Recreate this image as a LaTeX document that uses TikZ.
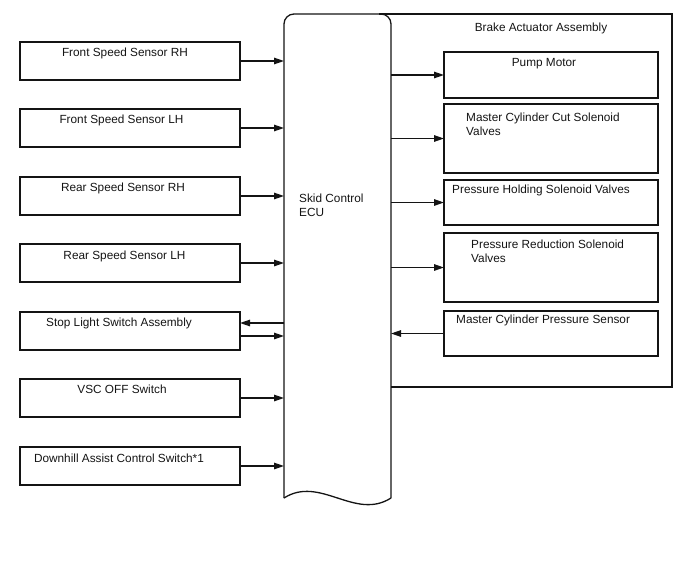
\documentclass[tikz,border=0pt]{standalone}
\usepackage{fontspec}
\setmainfont{Liberation Sans}
\usetikzlibrary{arrows.meta,positioning,calc}
\definecolor{ink}{RGB}{20,20,20}
\tikzset{
  >={Triangle[length=10pt,width=6.5pt]},
  unit/.style={draw=ink,line width=1.3pt,anchor=north west,inner sep=0pt,outer sep=0pt,
    minimum width=220pt,minimum height=38pt},
  part/.style={unit,minimum width=214pt,minimum height=#1},
  part/.default=45pt,
  frame/.style={anchor=north west,inner sep=0pt,outer sep=0pt},
  tag/.style={font=\fontsize{11.8}{14}\selectfont,text=ink,inner sep=0pt,align=left},
  flow/.style={->,line width=1.3pt,draw=ink},
}

\begin{document}
\begin{tikzpicture}[x=1pt,y=-1pt]
    \useasboundingbox (0,0) rectangle (688,560);
    % skid control ECU with wavy bottom
    \node[frame,minimum width=107pt,minimum height=484pt] (ecu) at (284,14) {};
    \draw[ink,line width=1.3pt,rounded corners=10pt] (ecu.south west) -- (ecu.north west) -- (ecu.north east) -- (ecu.south east);
    \draw[ink,line width=1.3pt] (ecu.south east) .. controls (355,521) and (320,475) .. (ecu.south west);
    \node[tag,anchor=north west] (ecut) at (299,194) {Skid Control\\ECU};
    % brake actuator assembly
    \node[frame,minimum width=281pt,minimum height=373pt] (bact) at (391,14) {};
    \draw[ink,line width=1.3pt] ([xshift=-12pt]bact.north west) -- (bact.north east) -- (bact.south east) -- (bact.south west);
    \node[tag,anchor=base] (bactt) at (541,31) {Brake Actuator Assembly};
    % inputs
    \node[unit] (fsrh) at (20,42) {};  \node[tag,anchor=base] (fsrht) at (125,56.5) {Front Speed Sensor RH};
    \node[unit] (fslh) at (20,109) {}; \node[tag,anchor=base] (fslht) at (121.5,123.5) {Front Speed Sensor LH};
    \node[unit] (rsrh) at (20,177) {}; \node[tag,anchor=base] (rsrht) at (123,191.5) {Rear Speed Sensor RH};
    \node[unit] (rslh) at (20,244) {}; \node[tag,anchor=base] (rslht) at (124.5,259.5) {Rear Speed Sensor LH};
    \node[unit] (stop) at (20,312) {}; \node[tag,anchor=base] (stopt) at (119,326.5) {Stop Light Switch Assembly};
    \node[unit] (vsc) at (20,379) {};  \node[tag,anchor=base] (vsct) at (122,393) {VSC OFF Switch};
    \node[unit] (dac) at (20,447) {};  \node[tag,anchor=base] (dact) at (119,462) {Downhill Assist Control Switch*1};
    \draw[flow] (fsrh.east) -- (fsrh.east -| ecu.west);
    \draw[flow] (fslh.east) -- (fslh.east -| ecu.west);
    \draw[flow] (rsrh.east) -- (rsrh.east -| ecu.west);
    \draw[flow] (rslh.east) -- (rslh.east -| ecu.west);
    \draw[flow] ($(stop.east -| ecu.west)+(0,-8)$) -- ($(stop.east)+(0,-8)$);
    \draw[flow] ($(stop.east)+(0,5)$) -- ($(stop.east -| ecu.west)+(0,5)$);
    \draw[flow] (vsc.east) -- (vsc.east -| ecu.west);
    \draw[flow] (dac.east) -- (dac.east -| ecu.west);
    % actuator parts
    \node[part=46pt] (pump) at (444,52) {};  \node[tag,anchor=base] (pumpt) at (544,66) {Pump Motor};
    \node[part=69pt] (mcc) at (444,104) {};  \node[tag,anchor=north west] (mcct) at (466,113) {Master Cylinder Cut Solenoid\\Valves};
    \node[part] (phv) at (444,180) {};       \node[tag,anchor=base west] (phvt) at (452,193.5) {Pressure Holding Solenoid Valves};
    \node[part=69pt] (prv) at (444,233) {};  \node[tag,anchor=north west] (prvt) at (471,240) {Pressure Reduction Solenoid\\Valves};
    \node[part] (mcps) at (444,311) {};      \node[tag,anchor=base west] (mcpst) at (456,323.5) {Master Cylinder Pressure Sensor};
    \draw[flow] (pump.west -| ecu.east) -- (pump.west);
    \draw[flow] (mcc.west -| ecu.east) -- (mcc.west);
    \draw[flow] (phv.west -| ecu.east) -- (phv.west);
    \draw[flow] (prv.west -| ecu.east) -- (prv.west);
    \draw[flow] (mcps.west) -- (mcps.west -| ecu.east);
\end{tikzpicture}
\end{document}
